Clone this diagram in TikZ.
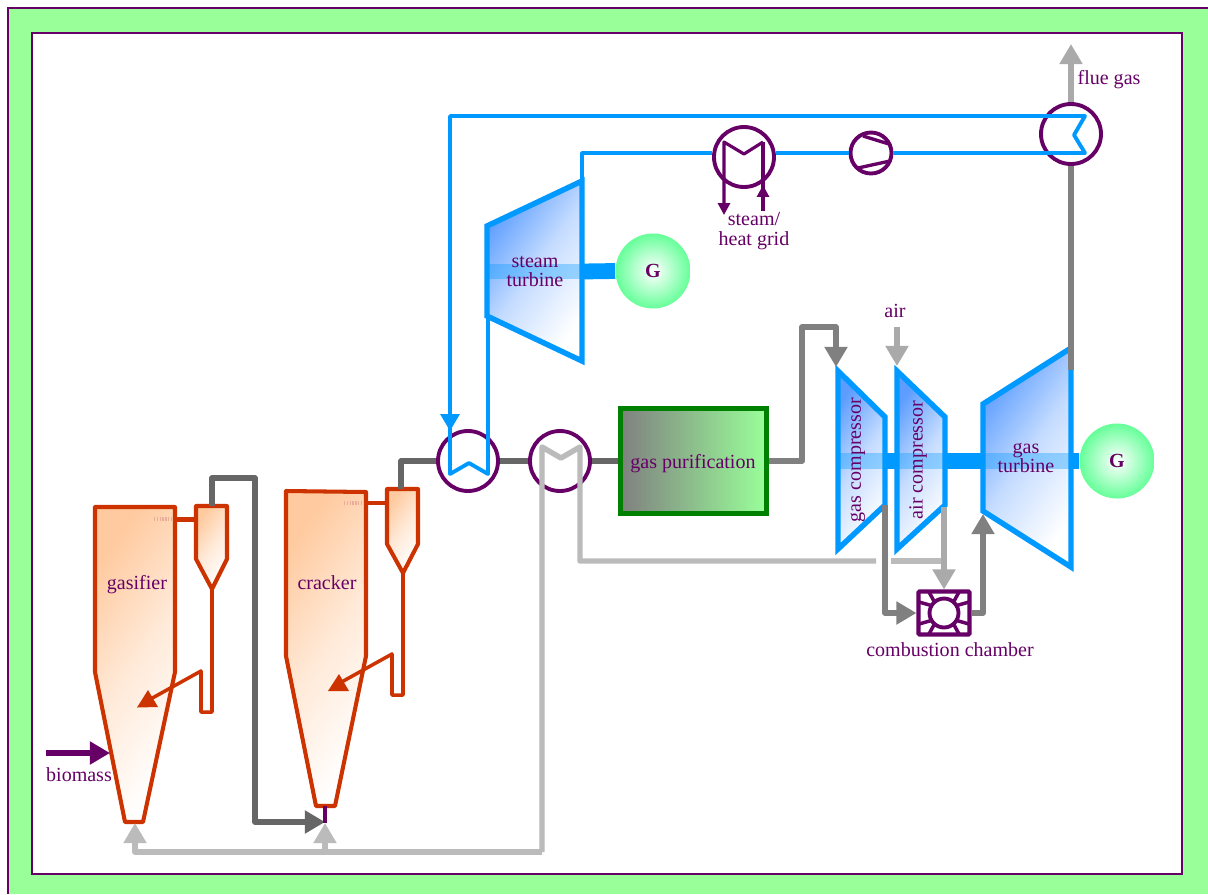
\documentclass[tikz,border=0pt]{standalone}
\usepackage{fontspec}
\setmainfont{Liberation Serif}
\usetikzlibrary{arrows.meta}

\definecolor{plum}{HTML}{660066}
\definecolor{pageGreen}{HTML}{99FF99}
\definecolor{genGreen}{HTML}{66FF99}
\definecolor{steamBlue}{HTML}{0099FF}
\definecolor{fillBlue}{HTML}{5C9DFF}
\definecolor{rustRed}{HTML}{CC3300}
\definecolor{fillOrange}{HTML}{FFCA9F}
\definecolor{gasDark}{HTML}{666666}
\definecolor{gasMid}{HTML}{808080}
\definecolor{airGrey}{HTML}{AAAAAA}
\definecolor{ashGrey}{HTML}{BBBBBB}
\definecolor{boxGreen}{HTML}{008000}

\tikzset{
  lbl/.style={text=plum, inner sep=0pt, font=\fontsize{11.4}{11.1}\selectfont, align=center},
  frameline/.style={draw=plum, line width=0.9pt},
  hxring/.style={circle, draw=plum, line width=2.2pt, inner sep=0pt, minimum size=1.2cm},
  genball/.style={circle, inner sep=0pt, minimum size=1.5cm, inner color=white, outer color=genGreen,
    text=plum, font=\fontsize{11.4}{13}\selectfont\bfseries},
  machine/.style={draw=steamBlue, line width=3.1pt, line join=miter, top color=fillBlue, bottom color=white,
    middle color=fillBlue!35!white, shading angle=55},
  vessel/.style={draw=rustRed, line width=2.3pt, line join=round, top color=fillOrange, bottom color=white,
    middle color=fillOrange!40!white, shading angle=55},
  rustpipe/.style={draw=rustRed, line width=2pt, line join=round},
  hatch/.style={draw=rustRed!40, line width=2.2pt, dash pattern=on 0.8pt off 0.8pt},
  steampipe/.style={draw=steamBlue, line width=2.2pt, line join=round},
  shaft/.style={draw=steamBlue, line width=9pt},
  shaftband/.style={draw=steamBlue, line width=9pt, opacity=0.35},
  pipe/.style={line width=3.1pt, line join=round},
  bigtip/.style={-{Triangle[length=11.5pt,width=12.6pt]}},
  smalltip/.style={-{Triangle[length=6.8pt,width=6.8pt]}}
}

\begin{document}
\begin{tikzpicture}[x=0.02cm, y=-0.02cm]

  \useasboundingbox (0,0) rectangle (1208,894);

  %% ---- Page frame ----
  \fill[pageGreen] (8,8) rectangle (1208,894);
  \draw[frameline] (8,894) -- (8,8) -- (1208,8);
  \filldraw[frameline, fill=white] (32,33) rectangle (1182,874);

  %% ---- Ports ----
  \coordinate (gasifierBase) at (135,823);
  \coordinate (crackerBase) at (325,823);
  \coordinate (crackerFoot) at (325,806);
  \coordinate (cycloneAtop) at (212,506);
  \coordinate (cycloneBtop) at (401,489);
  \coordinate (ashCorner) at (542,852);
  \coordinate (steamIn) at (582,181);
  \coordinate (loopCorner) at (582,153);
  \coordinate (steamOut) at (488,316);
  \coordinate (gasCompIn) at (836,367);
  \coordinate (airCompIn) at (897,366);
  \coordinate (airCompOut) at (944,507);
  \coordinate (gasCompOut) at (885,505);
  \coordinate (turbineIn) at (983,514);
  \coordinate (turbineOut) at (1071,370);
  \coordinate (flueTop) at (1071,44);

  %% ---- Gasifier ----
  \draw[vessel] (95,507) -- (175,507) -- (175,672) -- (143,822) -- (125,822) -- (95,672) -- cycle;
  \draw[hatch] (154,519) -- (173,519);
  \draw[vessel] (196,506) -- (227,506) -- (227,559) -- (212,589) -- (196,559) -- cycle;
  \draw[rustpipe, line width=2.6pt] (175,519.5) -- (196,519.5);
  \draw[rustpipe] (212,589) -- (212,712) -- (201,712) -- (201,671) -- (147,701);
  \fill[rustRed] (137,707.5) -- (148,690) -- (158,707) -- cycle;

  %% ---- Cracker ----
  \draw[vessel] (286,491) -- (366,492) -- (366,656) -- (335,806) -- (316,806) -- (286,656) -- cycle;
  \draw[hatch] (344,503) -- (363,503);
  \draw[vessel] (387,489) -- (418,489) -- (418,544) -- (403,573) -- (387,544) -- cycle;
  \draw[rustpipe, line width=2.6pt] (366,503) -- (387,503);
  \draw[rustpipe] (403,573) -- (403,695) -- (392,695) -- (392,654) -- (338,684);
  \fill[rustRed] (328,691) -- (339,674) -- (349,691) -- cycle;

  \node[lbl] (gasifierLabel) at (137,585) {gasifier};
  \node[lbl] (crackerLabel) at (327,583) {cracker};

  %% ---- Steam turbine and generator ----
  \draw[machine] (487,226) -- (582,181) -- (582,361) -- (487,316) -- cycle;
  \draw[shaftband] (489,271.5) -- (580,271.5);
  \node[genball] (genSteam) at (653,271) {G};
  \draw[shaft] (582,271.5) -- (genSteam.west);
  \node[lbl] (steamLabel) at (535,271.5) {steam\\turbine};

  %% ---- Gas turbine train ----
  \draw[machine] (838,371) -- (885,417) -- (885,505) -- (838,549) -- cycle;
  \draw[machine] (897,371) -- (945,417) -- (945,505) -- (897,549) -- cycle;
  \draw[machine] (983,404) -- (1071,348) -- (1071,567) -- (983,511) -- cycle;
  \draw[shaftband] (840,461) -- (883,461);
  \draw[shaftband] (899,461) -- (943,461);
  \draw[shaftband] (985,461) -- (1069,461);
  \node[genball] (genGas) at (1117,461) {G};
  \draw[shaft] (885,461) -- (897,461);
  \draw[shaft] (945,461) -- (983,461);
  \draw[shaft] (1071,461) -- (genGas.west);

  \node[lbl, rotate=90] (gasCompLabel) at (858,460) {gas compressor};
  \node[lbl, rotate=90] (airCompLabel) at (918,460) {air compressor};
  \node[lbl] (turbineLabel) at (1026,458) {gas\\turbine};

  %% ---- Steam loop ----
  \node[hxring] (hxFlue) at (1071,134) {};
  \node[hxring] (hxHeat) at (744,157) {};
  \node[hxring] (hxSteam) at (468,461) {};
  \node[circle, draw=plum, line width=2.2pt, inner sep=0pt, minimum size=0.82cm] (feedPump) at (871,153) {};
  \draw[steampipe] (steamIn) -- (loopCorner) -- (hxHeat.west |- loopCorner);
  \draw[steampipe] (hxHeat.east |- loopCorner) -- (feedPump.west);
  \draw[steampipe] (feedPump.east) -- (1085,153) -- (1074,135) -- (1085,116) -- (450,116) -- (450,431);
  \draw[steampipe, -{Triangle[length=9.6pt,width=10.6pt]}] (450,400) -- (450,431);
  \draw[steampipe] (450,431) -- (450,474) -- (469,463) -- (488,474) -- (steamOut);

  %% Pump vanes
  \draw[plum, line width=1.9pt] (863,136) -- (889,144);
  \draw[plum, line width=1.9pt] (858,168) -- (890,161);

  %% ---- Heat grid coil ----
  \draw[plum, line width=1.8pt, line join=round, smalltip] (763,142) -- (744,154) -- (724,142) -- (724,215);
  \draw[plum, line width=1.8pt] (763,142) -- (763,196);
  \draw[plum, line width=1.8pt, smalltip] (763,211) -- (763,185);
  \node[lbl] (gridLabel) at (754,231) {steam/\\heat grid};

  %% ---- Gas path ----
  \node[hxring] (hxHot) at (560,461) {};
  \node[draw=boxGreen, line width=2.8pt, left color=gasMid, right color=pageGreen, minimum width=2.92cm, minimum height=2.1cm,
    inner sep=0pt, lbl] (purifier) at (693.5,461) {};
  \node[lbl] (purifierLabel) at (693,463.5) {gas purification};
  \draw[pipe, gasDark] (cycloneAtop) -- (212,478) -- (255,478) -- (255,822) -- (303,822);
  \draw[pipe, gasDark, bigtip] (290,822) -- (325,822);
  \draw[plum, line width=2.8pt] (crackerFoot) -- (crackerBase);
  \draw[pipe, gasDark] (cycloneBtop) |- (hxSteam.west);
  \draw[pipe, gasDark] (hxSteam) -- (hxHot);
  \draw[pipe, gasDark] (hxHot) -- (purifier);
  \draw[pipe, gasMid, bigtip] (purifier.east) -- (802,461) -- (802,327) -- (836,327) -- (gasCompIn);

  %% ---- Ash line ----
  \draw[pipe, ashGrey, bigtip] (ashCorner) -| (gasifierBase);
  \draw[pipe, ashGrey, bigtip] (crackerBase |- ashCorner) -- (crackerBase);
  \draw[pipe, ashGrey] (ashCorner) -- (542,447) -- (561,458) -- (580,447) -- (580,561) -- (876,561);
  \draw[pipe, ashGrey] (891,561) -- (944,561);

  %% ---- Combustion chamber ----
  \node[draw=plum, line width=2.3pt, rounded corners=0.5pt, minimum width=1.02cm, minimum height=0.86cm, inner sep=0pt] (chamber) at (944,613) {};
  \node[circle, draw=plum, line width=2.2pt, inner sep=0pt, minimum size=0.58cm] (chamberCore) at (944,613) {};
  \draw[plum, line width=2pt]
    (929,592) -- (935,603) (919,602) -- (933,606)
    (959,592) -- (953,603) (969,602) -- (955,606)
    (929,634) -- (935,623) (919,624) -- (933,620)
    (959,634) -- (953,623) (969,624) -- (955,620);

  %% ---- Air and flue gas ----
  \draw[pipe, airGrey, bigtip] (897,327) -- (airCompIn);
  \draw[pipe, airGrey, bigtip] (airCompOut) -- (chamber.north);
  \draw[pipe, gasMid, bigtip] (gasCompOut) |- (chamber.west);
  \draw[pipe, gasMid, bigtip] (chamber.east) -| (turbineIn);
  \draw[pipe, gasMid] (hxFlue.south) -- (turbineOut);
  \draw[pipe, airGrey, bigtip] (hxFlue.north) -- (flueTop);

  %% ---- Feed ----
  \coordinate (biomassStart) at (46,753);
  \coordinate (biomassEnd) at (110,753);
  \draw[pipe, plum, bigtip] (biomassStart) -- (biomassEnd);

  %% Labels
  \node[lbl] (biomassLabel) at (79,775) {biomass};
  \node[lbl] (chamberLabel) at (950,650) {combustion chamber};
  \node[lbl] (airLabel) at (895,311) {air};
  \node[lbl] (flueLabel) at (1109,80) {flue gas};

\end{tikzpicture}
\end{document}
